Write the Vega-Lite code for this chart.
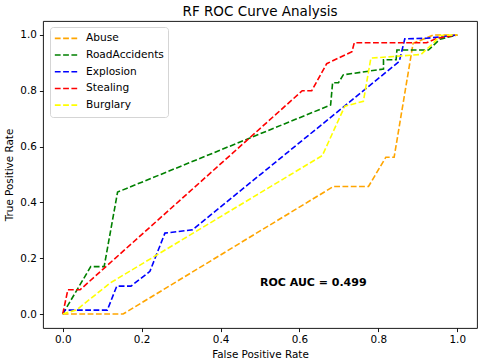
{
  "$schema": "https://vega.github.io/schema/vega-lite/v6.json",
  "autosize": "none",
  "width": 434,
  "height": 307,
  "padding": {"left": 43, "top": 21, "right": 3, "bottom": 33},
  "background": "white",
  "title": {"text": "RF ROC Curve Analysis", "font": "DejaVu Sans", "fontSize": 13.5, "fontWeight": "normal", "color": "black", "anchor": "middle", "frame": "group", "offset": 3, "baseline": "bottom", "dy": 14},
  "config": {
    "view": {"stroke": "black", "strokeWidth": 0.9},
    "axis": {"domain": false, "grid": false, "tickColor": "black", "tickSize": 3.6, "tickWidth": 0.9, "labelFont": "DejaVu Sans", "labelFontSize": 10.4, "labelColor": "black", "labelPadding": 3, "titleFont": "DejaVu Sans", "titleFontSize": 10.4, "titleFontWeight": "normal", "titleColor": "black"},
    "legend": {"orient": "none", "legendX": 7, "legendY": 6, "symbolType": "stroke", "symbolSize": 500, "symbolStrokeWidth": 1.6, "symbolDash": [5.8, 2.5], "labelFont": "DejaVu Sans", "labelFontSize": 10.6, "labelColor": "black", "labelOffset": 8, "strokeColor": "#d5d5d5", "fillColor": "rgba(255,255,255,0.8)", "cornerRadius": 3, "padding": 4, "clipHeight": 14.7, "rowPadding": 1.7}
  },
  "datasets": {
    "roc": [
      {"cls": "Abuse", "i": 0, "fpr": 0, "tpr": 0},
      {"cls": "Abuse", "i": 1, "fpr": 0.153, "tpr": 0},
      {"cls": "Abuse", "i": 2, "fpr": 0.686, "tpr": 0.457},
      {"cls": "Abuse", "i": 3, "fpr": 0.775, "tpr": 0.457},
      {"cls": "Abuse", "i": 4, "fpr": 0.819, "tpr": 0.562},
      {"cls": "Abuse", "i": 5, "fpr": 0.84, "tpr": 0.562},
      {"cls": "Abuse", "i": 6, "fpr": 0.888, "tpr": 0.97},
      {"cls": "Abuse", "i": 7, "fpr": 0.94, "tpr": 1.0},
      {"cls": "Abuse", "i": 8, "fpr": 1.0, "tpr": 1.0},
      {"cls": "RoadAccidents", "i": 0, "fpr": 0, "tpr": 0},
      {"cls": "RoadAccidents", "i": 1, "fpr": 0.071, "tpr": 0.17},
      {"cls": "RoadAccidents", "i": 2, "fpr": 0.105, "tpr": 0.17},
      {"cls": "RoadAccidents", "i": 3, "fpr": 0.139, "tpr": 0.437},
      {"cls": "RoadAccidents", "i": 4, "fpr": 0.679, "tpr": 0.749},
      {"cls": "RoadAccidents", "i": 5, "fpr": 0.684, "tpr": 0.829},
      {"cls": "RoadAccidents", "i": 6, "fpr": 0.699, "tpr": 0.829},
      {"cls": "RoadAccidents", "i": 7, "fpr": 0.711, "tpr": 0.857},
      {"cls": "RoadAccidents", "i": 8, "fpr": 0.813, "tpr": 0.878},
      {"cls": "RoadAccidents", "i": 9, "fpr": 0.813, "tpr": 0.911},
      {"cls": "RoadAccidents", "i": 10, "fpr": 0.845, "tpr": 0.911},
      {"cls": "RoadAccidents", "i": 11, "fpr": 0.847, "tpr": 0.946},
      {"cls": "RoadAccidents", "i": 12, "fpr": 0.927, "tpr": 0.946},
      {"cls": "RoadAccidents", "i": 13, "fpr": 0.956, "tpr": 0.985},
      {"cls": "RoadAccidents", "i": 14, "fpr": 1.0, "tpr": 1.0},
      {"cls": "Explosion", "i": 0, "fpr": 0, "tpr": 0},
      {"cls": "Explosion", "i": 1, "fpr": 0.005, "tpr": 0.014},
      {"cls": "Explosion", "i": 2, "fpr": 0.113, "tpr": 0.014},
      {"cls": "Explosion", "i": 3, "fpr": 0.137, "tpr": 0.1},
      {"cls": "Explosion", "i": 4, "fpr": 0.173, "tpr": 0.1},
      {"cls": "Explosion", "i": 5, "fpr": 0.221, "tpr": 0.153},
      {"cls": "Explosion", "i": 6, "fpr": 0.259, "tpr": 0.29},
      {"cls": "Explosion", "i": 7, "fpr": 0.329, "tpr": 0.302},
      {"cls": "Explosion", "i": 8, "fpr": 0.853, "tpr": 0.905},
      {"cls": "Explosion", "i": 9, "fpr": 0.867, "tpr": 0.986},
      {"cls": "Explosion", "i": 10, "fpr": 0.922, "tpr": 0.988},
      {"cls": "Explosion", "i": 11, "fpr": 1.0, "tpr": 1.0},
      {"cls": "Stealing", "i": 0, "fpr": 0, "tpr": 0},
      {"cls": "Stealing", "i": 1, "fpr": 0.013, "tpr": 0.087},
      {"cls": "Stealing", "i": 2, "fpr": 0.044, "tpr": 0.087},
      {"cls": "Stealing", "i": 3, "fpr": 0.607, "tpr": 0.8},
      {"cls": "Stealing", "i": 4, "fpr": 0.631, "tpr": 0.8},
      {"cls": "Stealing", "i": 5, "fpr": 0.669, "tpr": 0.897},
      {"cls": "Stealing", "i": 6, "fpr": 0.733, "tpr": 0.94},
      {"cls": "Stealing", "i": 7, "fpr": 0.739, "tpr": 0.972},
      {"cls": "Stealing", "i": 8, "fpr": 0.922, "tpr": 0.972},
      {"cls": "Stealing", "i": 9, "fpr": 0.948, "tpr": 0.988},
      {"cls": "Stealing", "i": 10, "fpr": 1.0, "tpr": 1.0},
      {"cls": "Burglary", "i": 0, "fpr": 0, "tpr": 0},
      {"cls": "Burglary", "i": 1, "fpr": 0.035, "tpr": 0.015},
      {"cls": "Burglary", "i": 2, "fpr": 0.12, "tpr": 0.111},
      {"cls": "Burglary", "i": 3, "fpr": 0.658, "tpr": 0.568},
      {"cls": "Burglary", "i": 4, "fpr": 0.715, "tpr": 0.745},
      {"cls": "Burglary", "i": 5, "fpr": 0.762, "tpr": 0.762},
      {"cls": "Burglary", "i": 6, "fpr": 0.781, "tpr": 0.917},
      {"cls": "Burglary", "i": 7, "fpr": 0.908, "tpr": 0.93},
      {"cls": "Burglary", "i": 8, "fpr": 0.939, "tpr": 0.97},
      {"cls": "Burglary", "i": 9, "fpr": 0.956, "tpr": 0.998},
      {"cls": "Burglary", "i": 10, "fpr": 1.0, "tpr": 1.0}
    ],
    "note": [{"label": "ROC AUC = 0.499", "fx": 0.5, "ty": 0.1}]
  },
  "layer": [
    {
      "data": {"name": "roc"},
      "mark": {"type": "line", "strokeWidth": 1.6, "strokeDash": [5.8, 2.5], "clip": true},
      "encoding": {
        "x": {"field": "fpr", "type": "quantitative", "scale": {"domain": [-0.05, 1.05], "nice": false, "zero": false}, "axis": {"values": [0, 0.2, 0.4, 0.6, 0.8, 1.0], "format": ".1f", "title": "False Positive Rate", "titlePadding": 4}},
        "y": {"field": "tpr", "type": "quantitative", "scale": {"domain": [-0.05, 1.05], "nice": false, "zero": false}, "axis": {"values": [0, 0.2, 0.4, 0.6, 0.8, 1.0], "format": ".1f", "title": "True Positive Rate", "titlePadding": 5}},
        "color": {"field": "cls", "type": "nominal", "scale": {"domain": ["Abuse", "RoadAccidents", "Explosion", "Stealing", "Burglary"], "range": ["#FFA500", "#008000", "#0000FF", "#FF0000", "#FFFF00"]}, "legend": {"title": null}},
        "order": {"field": "i", "type": "quantitative"}
      }
    },
    {
      "data": {"name": "note"},
      "mark": {"type": "text", "font": "DejaVu Sans", "fontSize": 11, "fontWeight": "bold", "align": "left", "baseline": "alphabetic", "color": "black"},
      "encoding": {
        "x": {"field": "fx", "type": "quantitative"},
        "y": {"field": "ty", "type": "quantitative"},
        "text": {"field": "label"}
      }
    }
  ]
}
